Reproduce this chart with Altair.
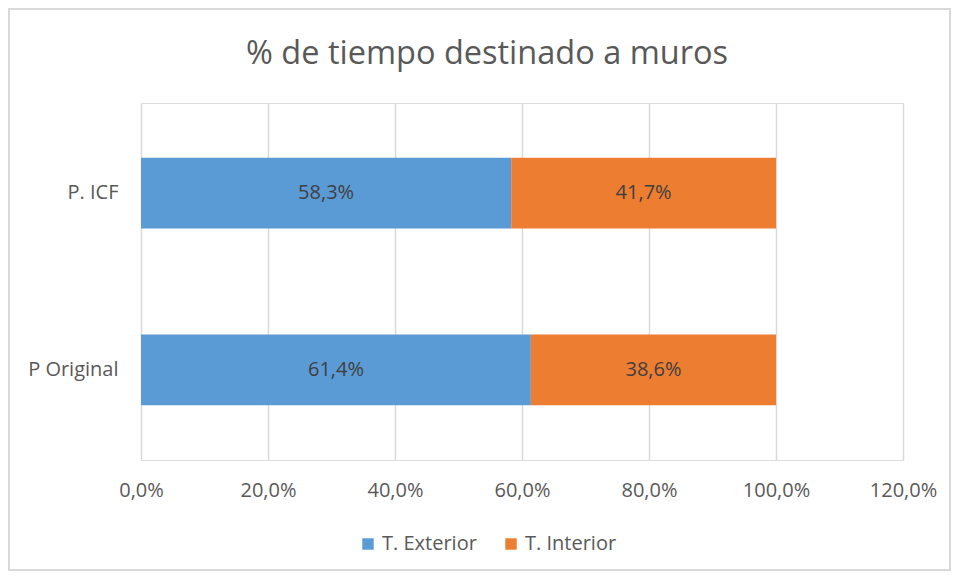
import altair as alt
import pandas as pd

categories = ["P. ICF", "P Original"]
series = ["T. Exterior", "T. Interior"]
exterior = [58.3, 61.4]
interior = [41.7, 38.6]
colors = ["#5B9BD5", "#ED7D31"]
x_ticks = [0, 20, 40, 60, 80, 100, 120]

rows = []
for i, c in enumerate(categories):
    rows.append({"cat": c, "serie": series[0], "val": exterior[i], "ord": 0})
    rows.append({"cat": c, "serie": series[1], "val": interior[i], "ord": 1})
df = pd.DataFrame(rows)

FONT = "Open Sans"
TXT = "#595959"

base = alt.Chart(df)

y_enc = alt.Y(
    "cat:N",
    sort=categories,
    title=None,
    scale=alt.Scale(paddingInner=0.6, paddingOuter=0.31),
    axis=alt.Axis(domain=False, ticks=False, labelPadding=23, labelFontSize=20,
                  labelFont=FONT, labelColor=TXT, grid=False),
)

bars = base.mark_bar().encode(
    x=alt.X(
        "val:Q",
        stack="zero",
        title=None,
        scale=alt.Scale(domain=[0, 120], nice=False),
        axis=alt.Axis(values=x_ticks, domain=False, ticks=False, grid=True,
                      gridColor="#D9D9D9", gridWidth=1.5, labelPadding=20,
                      labelFontSize=20, labelFont=FONT, labelColor=TXT,
                      labelFlush=False, labelBound=False, labelOverlap=False,
                      labelExpr="replace(format(datum.value, '.1f'), '.', ',') + '%'"),
    ),
    y=y_enc,
    color=alt.Color(
        "serie:N",
        scale=alt.Scale(domain=series, range=colors),
        legend=alt.Legend(title=None, orient="none", direction="horizontal",
                          legendX=217, legendY=431, symbolType="square",
                          symbolSize=130, symbolStrokeWidth=0, labelFontSize=20,
                          labelFont=FONT, labelColor=TXT, columnPadding=24,
                          symbolOffset=0, padding=0),
    ),
    order=alt.Order("ord:Q"),
)

labels = base.mark_text(fontSize=20, font=FONT, color="#404040").encode(
    x=alt.X("val:Q", stack="zero", bandPosition=0.5),
    y=alt.Y("cat:N", sort=categories),
    detail="serie:N",
    order=alt.Order("ord:Q"),
    text=alt.Text("lbl:N"),
).transform_calculate(
    lbl="replace(format(datum.val, '.1f'), '.', ',') + '%'"
)

frame = alt.Chart(pd.DataFrame({"k": [0]})).mark_rect(
    fill="transparent", stroke="#D9D9D9", strokeWidth=2
).encode(
    x=alt.value(-132), x2=alt.value(809), y=alt.value(-94), y2=alt.value(467)
)

chart = alt.layer(frame, bars, labels).properties(
    width=762,
    height=357,
    autosize=alt.AutoSizeParams(type="none"),
    padding={"left": 133, "top": 95, "right": 48, "bottom": 111},
    title=alt.TitleParams(
        "% de tiempo destinado a muros",
        fontSize=32.5, font=FONT, color=TXT, fontWeight="normal",
        anchor="middle", frame="group", dx=-35, offset=0,
        baseline="alphabetic", dy=88,
    ),
).configure_view(stroke="transparent", strokeWidth=0).configure(background="white")

chart.save("out.html", embed_options={"renderer": "svg", "actions": False})
